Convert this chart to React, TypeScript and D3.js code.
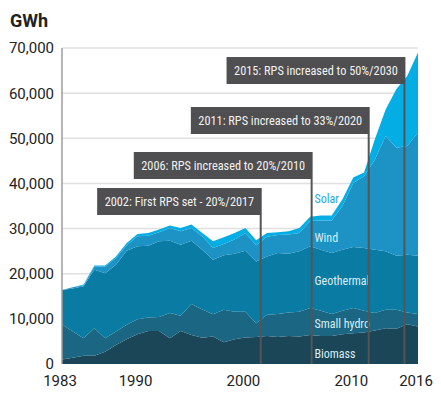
import React, { useRef, useEffect } from "react";
import * as d3 from "d3";

// California renewable generation by source, GWh
const years = [
  1983, 1984, 1985, 1986, 1987, 1988, 1989, 1990, 1991, 1992, 1993, 1994,
  1995, 1996, 1997, 1998, 1999, 2000, 2001, 2002, 2003, 2004, 2005, 2006,
  2007, 2008, 2009, 2010, 2011, 2012, 2013, 2014, 2015, 2016,
];
const biomass = [
  1000, 1400, 1800, 1800, 2700, 4200, 5500, 6600, 7300, 7300, 5700, 7300,
  6400, 5800, 6100, 4800, 5500, 5850, 6000, 6200, 6000, 6200, 6100, 6400,
  6200, 6200, 6600, 6800, 7000, 7400, 7900, 7800, 8800, 8300,
];
const smallHydro = [
  7800, 5800, 3900, 6100, 3000, 3000, 3200, 3300, 3000, 3100, 5600, 3400,
  6900, 6300, 4900, 7200, 6100, 5750, 3000, 4700, 5100, 5200, 5500, 6000,
  5600, 4900, 5200, 5600, 4800, 3900, 4100, 4200, 2600, 2800,
];
const geothermal = [
  7600, 9500, 11500, 13000, 14400, 14800, 16400, 16200, 15900, 16800, 16000, 15700,
  14000, 13200, 12100, 12100, 12800, 13500, 13700, 12900, 13500, 13000, 13400, 13700,
  13500, 13500, 13500, 13500, 13900, 14000, 13000, 12000, 12800, 12900,
];
const wind = [
  0, 300, 200, 700, 1500, 1500, 1200, 2200, 2200, 2000, 2800, 3000,
  2800, 3000, 2600, 2500, 3200, 3900, 3600, 4400, 4000, 4300, 4000, 5600,
  6500, 7200, 9700, 14200, 15900, 20000, 25500, 23900, 24100, 27300,
];
const solar = [
  0, 0, 200, 200, 200, 300, 500, 500, 600, 600, 600, 700,
  800, 700, 1500, 1500, 1400, 1100, 1100, 800, 600, 700, 1100, 900,
  1100, 1100, 1500, 1200, 800, 4500, 5900, 13000, 15500, 17700,
];

const seriesNames = ["Biomass", "Small hydro", "Geothermal", "Wind", "Solar"];
const seriesValues = [biomass, smallHydro, geothermal, wind, solar];
const seriesColors = ["#1a4658", "#1b6683", "#0a7ba2", "#1d93c5", "#05ade5"];
// where each series name sits inside its band (year, GWh)
const labelYear = 2006.4;
const labelLevels = [2370, 8860, 18450, 27850, 36700];

const yTicks = [0, 10000, 20000, 30000, 40000, 50000, 60000, 70000];
const xTicks = [1983, 1990, 2000, 2010, 2016];

const noteTexts = [
  "2002: First RPS set - 20%/2017",
  "2006: RPS increased to 20%/2010",
  "2011: RPS increased to 33%/2020",
  "2015: RPS increased to 50%/2030",
];
const noteYears = [2001.42, 2006.14, 2011.43, 2014.74];
const noteTops = [38990, 46960, 56930, 68000];

const sans = "Roboto, 'Open Sans', sans-serif";
const narrow = "'Liberation Sans Narrow', 'Roboto Condensed', Roboto, sans-serif";

export default function App() {
  const svgRef = useRef<SVGSVGElement | null>(null);

  useEffect(() => {
    const svg = d3.select(svgRef.current);
    svg.selectAll("*").remove();

    const x = d3.scaleLinear().domain([1983, 2016]).range([62, 418]);
    const y = d3.scaleLinear().domain([0, 70000]).range([364, 48]);

    const table = years.map((yr, i) => {
      const row: any = { year: yr };
      seriesNames.forEach((s, j) => (row[s] = seriesValues[j][i]));
      return row;
    });
    const layers = d3.stack<any>().keys(seriesNames)(table);

    // gridlines
    svg
      .append("g")
      .selectAll("line")
      .data(yTicks.filter((d) => d > 0))
      .join("line")
      .attr("x1", x(1983))
      .attr("x2", x(2016))
      .attr("y1", (d) => y(d))
      .attr("y2", (d) => y(d))
      .attr("stroke", "#e0e0e0")
      .attr("stroke-width", 1.5);

    // stacked areas
    const area = d3
      .area<any>()
      .x((d) => x(d.data.year))
      .y0((d) => y(d[0]))
      .y1((d) => y(d[1]));
    svg
      .append("g")
      .selectAll("path")
      .data(layers)
      .join("path")
      .attr("d", area)
      .attr("fill", (_, i) => seriesColors[i]);

    // left axis line
    svg
      .append("line")
      .attr("x1", x(1983))
      .attr("x2", x(1983))
      .attr("y1", y(70000))
      .attr("y2", y(0))
      .attr("stroke", "#9c9c9c")
      .attr("stroke-width", 1.5);

    // y tick labels
    svg
      .append("g")
      .selectAll("text")
      .data(yTicks)
      .join("text")
      .attr("x", 54)
      .attr("y", (d) => y(d))
      .attr("dy", "0.36em")
      .attr("text-anchor", "end")
      .attr("font-family", sans)
      .attr("font-size", 15)
      .attr("fill", "#222")
      .text((d) => d3.format(",")(d));

    // x tick labels
    svg
      .append("g")
      .selectAll("text")
      .data(xTicks)
      .join("text")
      .attr("x", (d) => x(d) - 2)
      .attr("y", 386)
      .attr("text-anchor", "middle")
      .attr("font-family", sans)
      .attr("font-size", 15)
      .attr("fill", "#222")
      .text((d) => d);

    // unit
    svg
      .append("text")
      .attr("x", 10)
      .attr("y", 27)
      .attr("font-family", sans)
      .attr("font-weight", "bold")
      .attr("font-size", 18)
      .attr("fill", "#222")
      .text("GWh");

    // series labels
    svg
      .append("g")
      .selectAll("text")
      .data(seriesNames)
      .join("text")
      .attr("x", x(labelYear))
      .attr("y", (_, i) => y(labelLevels[i]))
      .attr("dy", "0.35em")
      .attr("font-family", narrow)
      .attr("font-size", 12)
      .attr("fill", (d) => (d === "Solar" ? "#1ea8dd" : "#dcedf4"))
      .text((d) => d);

    // policy annotations
    const notes = svg.append("g");
    noteTexts.forEach((t, i) => {
      const lx = x(noteYears[i]);
      const top = y(noteTops[i]);
      const h = 27;
      const g = notes.append("g");
      const rect = g.append("rect").attr("fill", "#4f4f51");
      const label = g
        .append("text")
        .attr("font-family", narrow)
        .attr("font-size", 12.3)
        .attr("fill", "#f2f2f2")
        .attr("text-anchor", "middle")
        .attr("dy", "0.35em")
        .text(t);
      const w = (label.node() as SVGTextElement).getComputedTextLength() + 15;
      rect
        .attr("x", lx + 1 - w)
        .attr("y", top)
        .attr("width", w)
        .attr("height", h);
      label.attr("x", lx + 1 - w / 2).attr("y", top + h / 2);
      g.append("line")
        .attr("x1", lx)
        .attr("x2", lx)
        .attr("y1", top + h)
        .attr("y2", y(0))
        .attr("stroke", "#555")
        .attr("stroke-width", 2);
    });
  }, []);

  return (
    <svg
      ref={svgRef}
      width={441}
      height={402}
      style={{ position: "absolute", left: 0, top: 0, background: "#fff" }}
    />
  );
}
